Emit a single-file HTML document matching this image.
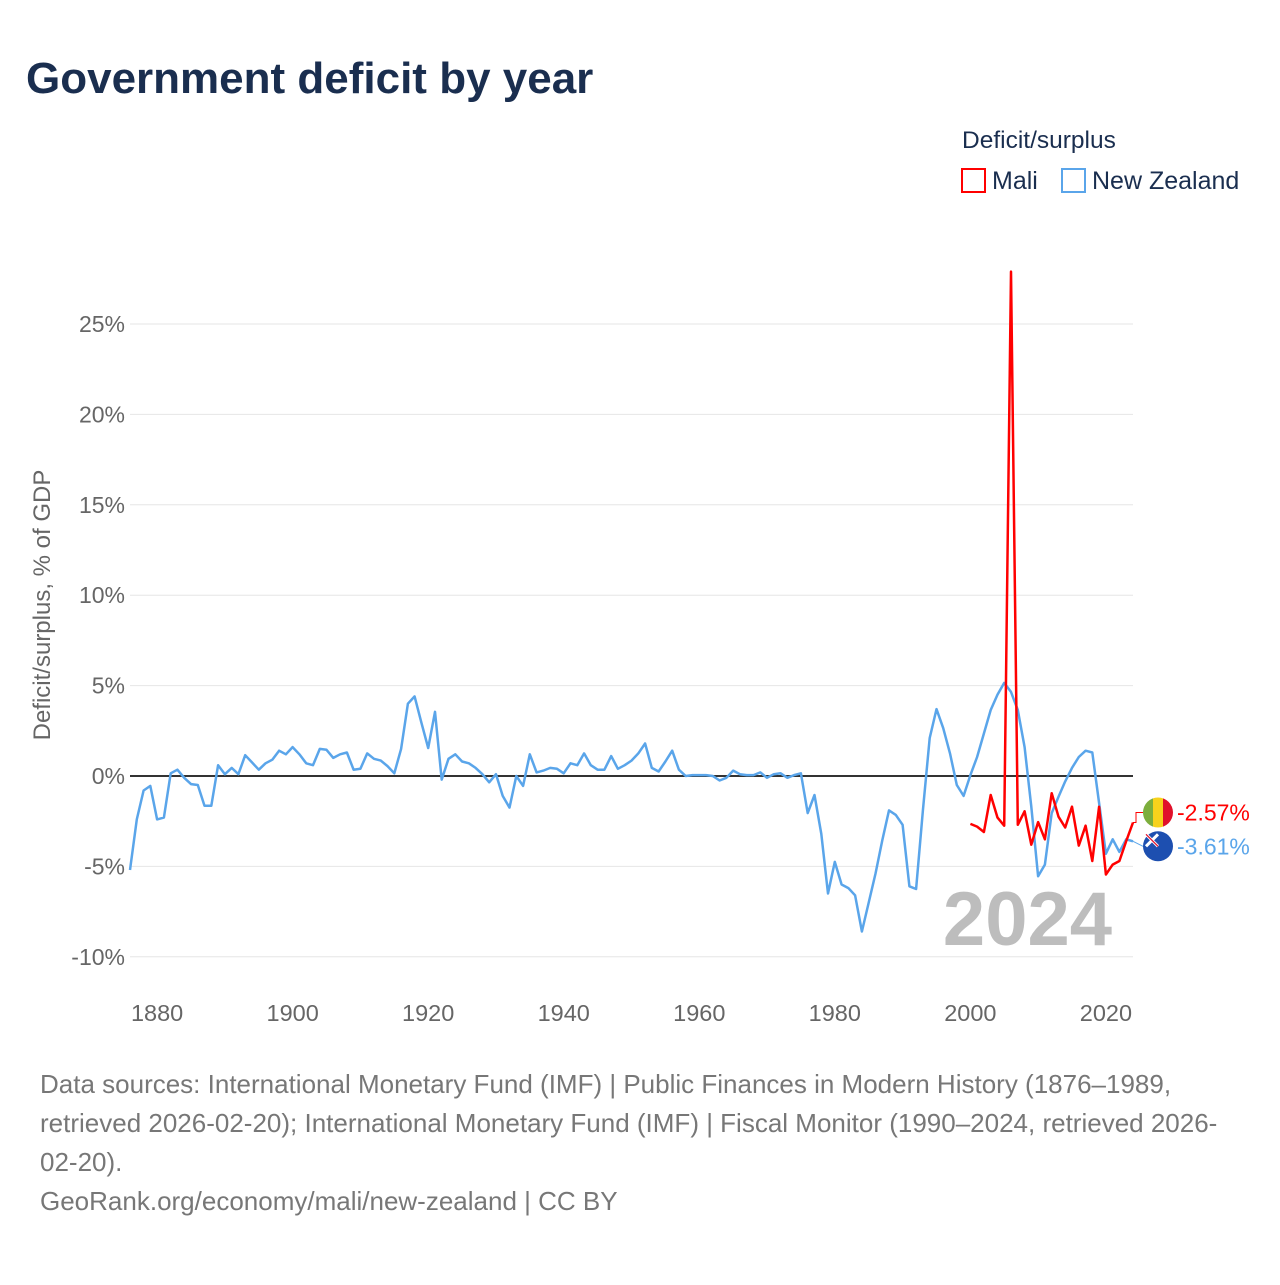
<!DOCTYPE html>
<html><head><meta charset="utf-8"><style>
body{margin:0;width:1280px;height:1280px;background:#fff;font-family:"Liberation Sans",sans-serif;overflow:hidden}
</style></head><body>
<svg width="1280" height="1280" viewBox="0 0 1280 1280" xmlns="http://www.w3.org/2000/svg">
<text x="26" y="93" font-size="44" font-weight="bold" fill="#1a2e4f">Government deficit by year</text>
<text x="962" y="148" font-size="24.5" fill="#1a2e4f">Deficit/surplus</text>
<g><rect x="962" y="169" width="23" height="23" fill="none" stroke="#f00" stroke-width="2"/><text x="992" y="189" font-size="25" fill="#1a2e4f">Mali</text></g>
<g><rect x="1062" y="169" width="23" height="23" fill="none" stroke="#5aa5ea" stroke-width="2"/><text x="1092" y="189" font-size="25" fill="#1a2e4f">New Zealand</text></g>
<g id="grid"></g>
<text x="1112" y="945" font-size="76" font-weight="bold" fill="#bdbdbd" text-anchor="end">2024</text>
<g id="plot"></g>
<text transform="translate(50,605) rotate(-90)" font-size="24" fill="#666" text-anchor="middle">Deficit/surplus, % of GDP</text>
<g font-size="26" fill="#777">
<text x="40" y="1093">Data sources: International Monetary Fund (IMF) | Public Finances in Modern History (1876–1989,</text>
<text x="40" y="1132">retrieved 2026-02-20); International Monetary Fund (IMF) | Fiscal Monitor (1990–2024, retrieved 2026-</text>
<text x="40" y="1171">02-20).</text>
<text x="40" y="1210">GeoRank.org/economy/mali/new-zealand | CC BY</text>
</g>
</svg>
<script>
const nzStart = 1876;
const nzValues = [-5.2,-2.4,-0.8,-0.55,-2.4,-2.3,0.15,0.35,-0.1,-0.45,-0.5,-1.65,-1.65,0.6,0.1,0.45,0.1,1.15,0.75,0.35,0.7,0.9,1.4,1.2,1.6,1.2,0.7,0.6,1.5,1.45,1.0,1.2,1.3,0.35,0.4,1.25,0.95,0.85,0.55,0.15,1.5,4.0,4.4,2.95,1.55,3.55,-0.2,0.95,1.2,0.8,0.7,0.45,0.1,-0.35,0.1,-1.1,-1.75,0.0,-0.55,1.2,0.2,0.3,0.45,0.4,0.15,0.7,0.6,1.25,0.6,0.35,0.35,1.1,0.4,0.6,0.85,1.25,1.8,0.45,0.25,0.8,1.4,0.35,0.0,0.05,0.05,0.05,0.0,-0.25,-0.1,0.3,0.1,0.05,0.05,0.2,-0.1,0.1,0.15,-0.1,0.05,0.15,-2.05,-1.05,-3.2,-6.5,-4.75,-6.0,-6.2,-6.6,-8.6,-7.0,-5.4,-3.55,-1.9,-2.15,-2.7,-6.1,-6.25,-1.9,2.1,3.7,2.65,1.25,-0.5,-1.1,0.05,1.05,2.35,3.65,4.5,5.15,4.65,3.65,1.6,-1.7,-5.55,-4.9,-2.05,-1.15,-0.3,0.45,1.05,1.4,1.3,-1.5,-4.3,-3.5,-4.2,-3.5,-3.61];
const maliStart = 2000;
const maliValues = [-2.65,-2.8,-3.1,-1.05,-2.3,-2.75,27.9,-2.7,-1.95,-3.8,-2.55,-3.5,-0.95,-2.25,-2.85,-1.7,-3.85,-2.75,-4.7,-1.7,-5.45,-4.9,-4.7,-3.6,-2.57];
const yTicks = [-10,-5,0,5,10,15,20,25];
const xTicks = [1880,1900,1920,1940,1960,1980,2000,2020];
const NS='http://www.w3.org/2000/svg';
const X0=130,X1=1133,Y0=776,PY=18.08;
const xs=y=>X0+(y-1876)*(X1-X0)/(2024-1876);
const ys=v=>Y0-v*PY;
const grid=document.getElementById('grid'),plot=document.getElementById('plot');
function mk(tag,attrs,parent){const e=document.createElementNS(NS,tag);for(const k in attrs)e.setAttribute(k,attrs[k]);parent.appendChild(e);return e;}
yTicks.forEach(t=>{
  if(t!==0){const l=mk('line',{x1:X0,x2:X1,y1:ys(t),y2:ys(t),stroke:'#e6e6e6','stroke-width':1},grid);
  
  }
  const tx=mk('text',{x:125,y:ys(t)+8,'font-size':23,fill:'#666','text-anchor':'end'},grid);
  tx.textContent=t+'%';
  
  
});
xTicks.forEach(t=>{
  const tx=mk('text',{x:xs(t),y:1021,'font-size':23.5,fill:'#666','text-anchor':'middle'},grid);
  tx.textContent=t;
  
  
});
const z=mk('line',{x1:X0,x2:X1,y1:Y0,y2:Y0,stroke:'#333','stroke-width':2},plot);


function series(start,vals,color,name){
  const d=vals.map((v,i)=>(i?'L':'M')+xs(start+i).toFixed(1)+','+ys(v).toFixed(1)).join('');
  const p=mk('path',{d:d,fill:'none',stroke:color,'stroke-width':2.5,'stroke-linejoin':'round'},plot);
  
  
}
series(nzStart,nzValues,'#5aa5ea','new-zealand-line');
series(maliStart,maliValues,'#f00','mali-line');
const mLast=maliValues[maliValues.length-1],nLast=nzValues[nzValues.length-1];
const my=ys(mLast)-10,ny=ys(nLast)+5;
mk('path',{d:`M${X1},${ys(mLast)}L${X1+3},${ys(mLast)}L${X1+3},${my}L${X1+10},${my}`,fill:'none',stroke:'#f00','stroke-width':1},plot);
mk('path',{d:`M${X1},${ys(nLast)}L${X1+10},${ny}`,fill:'none',stroke:'#5aa5ea','stroke-width':1},plot);
const mf=mk('g',{},plot);


const cp=mk('clipPath',{id:'cm'},mf);
mk('circle',{cx:1158,cy:my,r:15},cp);
const mg=mk('g',{'clip-path':'url(#cm)'},mf);
mk('rect',{x:1143,y:my-15,width:10,height:30,fill:'#7cae3c'},mg);
mk('rect',{x:1153,y:my-15,width:10,height:30,fill:'#f7d21c'},mg);
mk('rect',{x:1163,y:my-15,width:10,height:30,fill:'#e0112b'},mg);
const nf=mk('g',{},plot);


mk('circle',{cx:1158,cy:ny,r:15,fill:'#1d4fb0'},nf);
mk('path',{d:`M1146,${ny-12}L1158,${ny}M1158,${ny-12}L1146,${ny}`,stroke:'#fff','stroke-width':3},nf);
mk('path',{d:`M1146,${ny-12}L1158,${ny}`,stroke:'#e0112b','stroke-width':1.2},nf);
const ml=mk('text',{x:1177,y:my+8,'font-size':23,fill:'#f00'},plot);
ml.textContent=mLast.toFixed(2)+'%';


const nl=mk('text',{x:1177,y:ny+8,'font-size':23,fill:'#5aa5ea'},plot);
nl.textContent=nLast.toFixed(2)+'%';


</script>
</body></html>
